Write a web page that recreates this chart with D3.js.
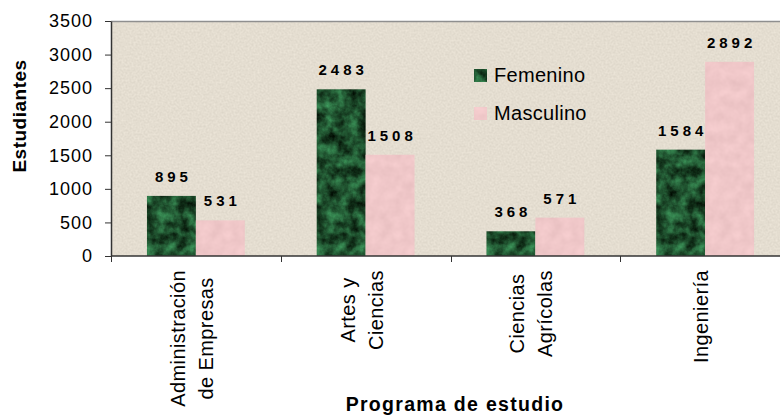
<!DOCTYPE html>
<html>
<head>
<meta charset="utf-8">
<script src="https://cdn.jsdelivr.net/npm/d3@7"></script>
<style>
  body { margin: 0; background: #fff; }
  svg, svg text { font-family: "Liberation Sans", Arial, Helvetica, sans-serif; }
</style>
</head>
<body>
<div id="chart"></div>
<script>
// data
const categories = ['Administración de Empresas', 'Artes y Ciencias', 'Ciencias Agrícolas', 'Ingeniería'];
const labelLines = [['Administración', 'de Empresas'], ['Artes y', 'Ciencias'], ['Ciencias', 'Agrícolas'], ['Ingeniería']];
const series = ['Femenino', 'Masculino'];
const femenino = [895, 2483, 368, 1584];
const masculino = [531, 1508, 571, 2892];
const yTicks = [0, 500, 1000, 1500, 2000, 2500, 3000, 3500];

const width = 780;
const height = 415;
const plot = { left: 111, right: 790, top: 21, bottom: 256 };
const FONT = '"Liberation Sans", Arial, Helvetica, sans-serif';

const svg = d3
  .select('#chart')
  .append('svg')
  .attr('width', width)
  .attr('height', height)
  .attr('font-family', FONT);

// textures (noise mapped to a colour, clipped to the shape)
const defs = svg.append('defs');

function texture(id, freq, octaves, seed, values) {
  const f = defs.append('filter').attr('id', id)
    .attr('x', 0).attr('y', 0).attr('width', 1).attr('height', 1)
    .attr('color-interpolation-filters', 'sRGB');
  f.append('feTurbulence')
    .attr('type', 'fractalNoise').attr('baseFrequency', freq)
    .attr('numOctaves', octaves).attr('seed', seed).attr('result', 'n');
  f.append('feColorMatrix').attr('in', 'n').attr('type', 'matrix')
    .attr('values', values).attr('result', 'c');
  f.append('feComposite').attr('in', 'c').attr('in2', 'SourceGraphic').attr('operator', 'in');
}

texture('paper', 0.5, 2, 7, '0.09 0 0 0 0.85  0.09 0 0 0 0.823  0.09 0 0 0 0.772  0 0 0 0 1');
texture('marble', 0.09, 4, 3, '0.32 0 0 0 -0.04  0.75 0 0 0 -0.06  0.48 0 0 0 -0.06  0 0 0 0 1');
texture('pinkish', 0.09, 3, 5, '0.08 0 0 0 0.898  0.08 0 0 0 0.74  0.08 0 0 0 0.745  0 0 0 0 1');

// scales
const xScale = d3.scaleBand().domain(categories).range([plot.left, plot.right]);
const xInner = d3.scaleBand().domain(series).range([0, xScale.bandwidth()]).paddingOuter(0.735);
const yScale = d3.scaleLinear().domain([0, 3500]).range([plot.bottom, plot.top]);

// plot area
svg.append('rect')
  .attr('x', plot.left)
  .attr('y', plot.top)
  .attr('width', plot.right - plot.left)
  .attr('height', plot.bottom - plot.top)
  .attr('fill', '#e4ddd0')
  .attr('filter', 'url(#paper)');

svg.append('line')
  .attr('x1', plot.left).attr('x2', plot.right)
  .attr('y1', plot.top + 0.5).attr('y2', plot.top + 0.5)
  .attr('stroke', '#8f8f8f').attr('stroke-width', 1.5);

// bars
const rows = categories.map((c, i) => ({ cat: c, values: [femenino[i], masculino[i]] }));
const fills = ['url(#marble)', 'url(#pinkish)'];
const bases = ['#1d5a33', '#efc5c7'];

const groups = svg
  .selectAll('.group')
  .data(rows)
  .enter()
  .append('g')
  .attr('class', 'group')
  .attr('transform', d => `translate(${xScale(d.cat)},0)`);

groups
  .selectAll('rect')
  .data(d => d.values.map((v, j) => ({ s: series[j], v: v, j: j })))
  .enter()
  .append('rect')
  .attr('x', d => xInner(d.s))
  .attr('y', d => yScale(d.v))
  .attr('width', xInner.bandwidth())
  .attr('height', d => plot.bottom - yScale(d.v))
  .attr('fill', d => bases[d.j])
  .attr('filter', d => fills[d.j]);

groups
  .selectAll('text')
  .data(d => d.values.map((v, j) => ({ s: series[j], v: v })))
  .enter()
  .append('text')
  .attr('x', d => xInner(d.s) + xInner.bandwidth() / 2 + 2)
  .attr('y', d => yScale(d.v) - 14)
  .attr('text-anchor', 'middle')
  .style('font-size', '15px')
  .style('font-weight', 'bold')
  .style('letter-spacing', '4px')
  .attr('fill', '#000')
  .text(d => d.v);

// y axis
const yAxis = svg
  .append('g')
  .attr('transform', `translate(${plot.left},0)`)
  .call(
    d3.axisLeft(yScale)
      .tickValues(yTicks)
      .tickFormat(d3.format('d'))
      .tickSize(6)
      .tickPadding(12)
      .tickSizeOuter(0)
  )
  .attr('font-family', FONT)
  .attr('font-size', null);
yAxis.select('.domain').attr('stroke', '#333').attr('stroke-width', 1.5);
yAxis.selectAll('.tick line').attr('stroke', '#333');
yAxis.selectAll('.tick text')
  .style('font-size', '18px')
  .style('letter-spacing', '1px')
  .attr('fill', '#000');

// x axis, ticks on the category boundaries
svg.append('line')
  .attr('x1', plot.left).attr('x2', plot.right)
  .attr('y1', plot.bottom).attr('y2', plot.bottom)
  .attr('stroke', '#333').attr('stroke-width', 1.5);

svg.selectAll('.xtick')
  .data(categories)
  .enter()
  .append('line')
  .attr('class', 'xtick')
  .attr('x1', d => Math.round(xScale(d)) + 0.5)
  .attr('x2', d => Math.round(xScale(d)) + 0.5)
  .attr('y1', plot.bottom)
  .attr('y2', plot.bottom + 6)
  .attr('stroke', '#333');

// category labels, rotated, lines centred on each other
const catLabels = svg
  .selectAll('.catLabel')
  .data(categories)
  .enter()
  .append('g')
  .attr('class', 'catLabel');

catLabels.each(function(d, i) {
  const g = d3.select(this);
  const lines = labelLines[i];
  const texts = lines.map((t, k) =>
    g.append('text')
      .attr('x', 0)
      .attr('y', 3 + (k - (lines.length - 1) / 2) * 28)
      .attr('text-anchor', 'middle')
      .style('font-size', '20px')
      .style('letter-spacing', '0.4px')
      .attr('fill', '#000')
      .text(t)
  );
  const maxLen = d3.max(texts, t => t.node().getComputedTextLength());
  const cx = xScale(d) + xScale.bandwidth() / 2;
  g.attr('transform', `translate(${cx},${270 + maxLen / 2}) rotate(-90)`);
});

// axis titles
svg.append('text')
  .attr('transform', 'translate(26,116) rotate(-90)')
  .attr('text-anchor', 'middle')
  .style('font-size', '19px')
  .style('font-weight', 'bold')
  .style('letter-spacing', '0.5px')
  .text('Estudiantes');

svg.append('text')
  .attr('x', 455)
  .attr('y', 411)
  .attr('text-anchor', 'middle')
  .style('font-size', '19.5px')
  .style('font-weight', 'bold')
  .style('letter-spacing', '1.3px')
  .text('Programa de estudio');

// legend
const legend = svg
  .selectAll('.legend')
  .data(series)
  .enter()
  .append('g')
  .attr('class', 'legend')
  .attr('transform', (d, i) => `translate(474, ${69 + i * 38})`);

legend.append('rect')
  .attr('width', 13)
  .attr('height', 13)
  .attr('fill', (d, i) => bases[i])
  .attr('filter', (d, i) => fills[i]);

legend.append('text')
  .attr('x', 20)
  .attr('y', 12.5)
  .style('font-size', '20px')
  .style('letter-spacing', '0.3px')
  .attr('fill', '#000')
  .text(d => d);
</script>
</body>
</html>
